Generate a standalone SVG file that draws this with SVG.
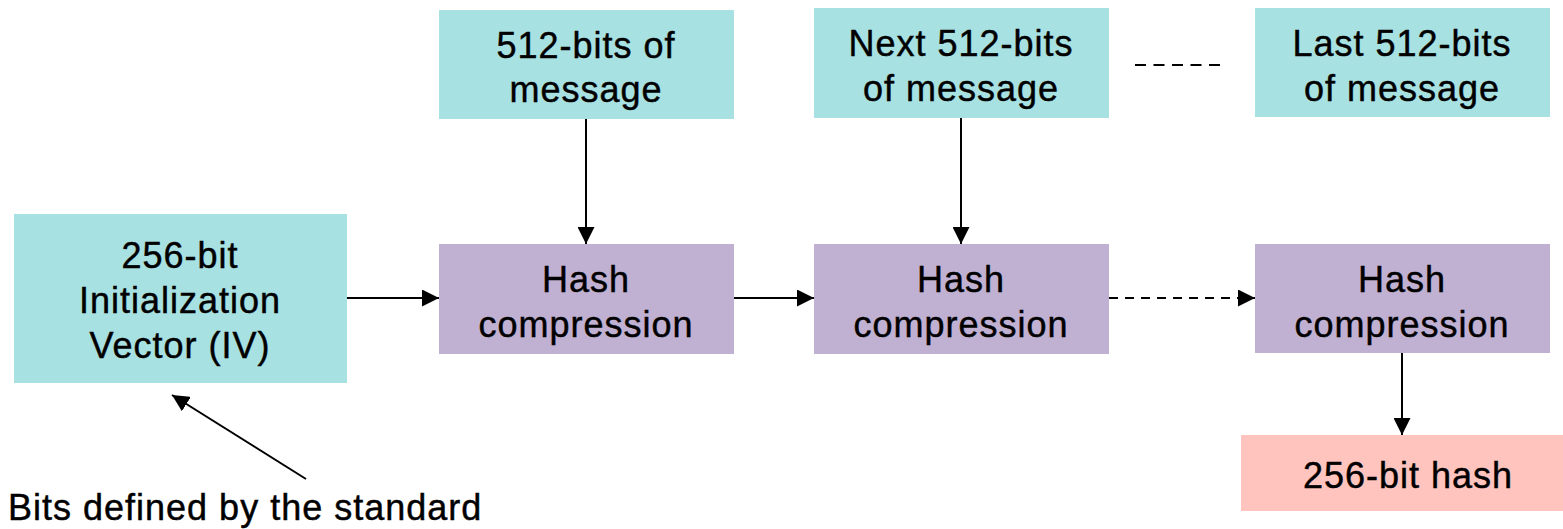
<svg xmlns="http://www.w3.org/2000/svg" width="1563" height="529" viewBox="0 0 1563 529">
<style>
.t{font-family:"Liberation Sans",Arial,sans-serif;font-size:36px;letter-spacing:1px;fill:#000;stroke:#000;stroke-width:0.45;text-anchor:middle}
.cy{fill:#A8E1E2}
.pu{fill:#C0B1D2}
.pk{fill:#FFC4BE}
.c{stroke:#000;stroke-width:2;fill:none}
.d{stroke-dasharray:9 7}
.d2{stroke-dasharray:11 7.5}
</style>
<defs>
<marker id="ah" viewBox="0 0 10 10" refX="10" refY="5" markerWidth="17" markerHeight="17" markerUnits="userSpaceOnUse" orient="auto">
<path d="M0,0 L10,5 L0,10 Z" fill="#000"/>
</marker>
</defs>
<g id="iv"><rect class="cy" x="14" y="214" width="333" height="169"/>
<text class="t" x="180" y="268">256-bit</text><text class="t" x="180" y="313">Initialization</text><text class="t" x="180" y="358">Vector (IV)</text></g>
<g id="msg1"><rect class="cy" x="439" y="10" width="295" height="109"/>
<text class="t" x="586" y="58">512-bits of</text><text class="t" x="586" y="102">message</text></g>
<g id="msg2"><rect class="cy" x="814" y="8" width="295" height="110"/>
<text class="t" x="961" y="56">Next 512-bits</text><text class="t" x="961" y="101">of message</text></g>
<g id="msg3"><rect class="cy" x="1255" y="8" width="295" height="109"/>
<text class="t" x="1402" y="56">Last 512-bits</text><text class="t" x="1402" y="101">of message</text></g>
<g id="hash1"><rect class="pu" x="439" y="244" width="295" height="110"/>
<text class="t" x="586" y="292">Hash</text><text class="t" x="586" y="337">compression</text></g>
<g id="hash2"><rect class="pu" x="814" y="244" width="295" height="110"/>
<text class="t" x="961" y="292">Hash</text><text class="t" x="961" y="337">compression</text></g>
<g id="hash3"><rect class="pu" x="1255" y="244" width="295" height="109"/>
<text class="t" x="1402" y="292">Hash</text><text class="t" x="1402" y="337">compression</text></g>
<g id="result"><rect class="pk" x="1241" y="435" width="322" height="76"/>
<text class="t" x="1408" y="488">256-bit hash</text></g>
<g id="note"><text class="t" x="8" y="520" style="text-anchor:start">Bits defined by the standard</text></g>
<g id="connectors">
<line class="c" x1="347" y1="298" x2="439" y2="298" marker-end="url(#ah)"/>
<line class="c" x1="734" y1="298" x2="814" y2="298" marker-end="url(#ah)"/>
<line class="c d" x1="1109" y1="298" x2="1255" y2="298" marker-end="url(#ah)"/>
<line class="c" x1="586" y1="119" x2="586" y2="244" marker-end="url(#ah)"/>
<line class="c" x1="961" y1="118" x2="961" y2="244" marker-end="url(#ah)"/>
<line class="c" x1="1402" y1="353" x2="1402" y2="435" marker-end="url(#ah)"/>
<line class="c" x1="306" y1="479" x2="172" y2="395" marker-end="url(#ah)"/>
<line class="c d2" x1="1135" y1="65" x2="1220" y2="65"/>
</g>
</svg>
